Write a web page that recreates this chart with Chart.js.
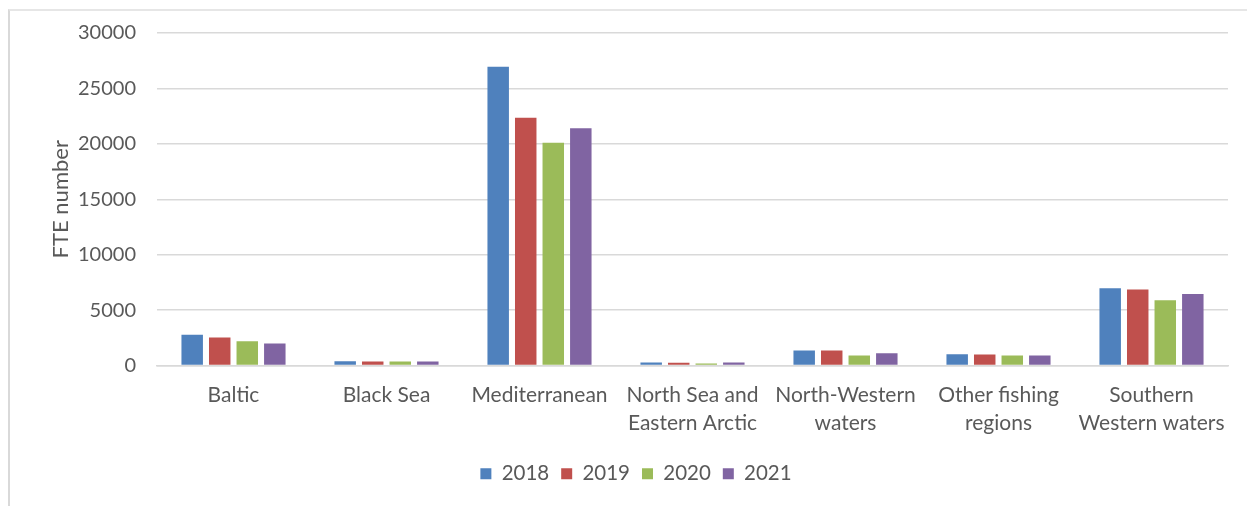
<!DOCTYPE html>
<html>
<head>
<meta charset="utf-8">
<script src="https://cdn.jsdelivr.net/npm/chart.js@4.4.1/dist/chart.umd.min.js"></script>
<style>
  html, body { margin: 0; padding: 0; background: #fff; }
  #wrap { position: relative; width: 1247px; height: 506px; }
  #frame { position: absolute; left: 8px; top: 9px; right: 0; bottom: 0;
           border-left: 2px solid #d9d9d9; border-top: 2px solid #e6e6e6; }
  canvas { position: absolute; left: 0; top: 0; }
</style>
</head>
<body>
<div id="wrap">
  <div id="frame"></div>
  <canvas id="fteChart" width="1247" height="506"></canvas>
</div>
<script>
// Regiões de pesca
const regions = [
    'Baltic',
    'Black Sea',
    'Mediterranean',
    ['North Sea and', 'Eastern Arctic'],
    ['North-Western', 'waters'],
    ['Other fishing', 'regions'],
    ['Southern', 'Western waters']
];

// FTE por ano
const fte2018 = [2770, 380, 26950, 280, 1350, 1020, 6960];
const fte2019 = [2520, 370, 22350, 250, 1350, 1000, 6850];
const fte2020 = [2190, 350, 20100, 170, 900, 900, 5880];
const fte2021 = [1980, 360, 21400, 260, 1110, 900, 6460];

const yTicks = [0, 5000, 10000, 15000, 20000, 25000, 30000];

const textColor = '#595959';
const fontFamily = 'Lato, "Open Sans", sans-serif';

// desloca a legenda para ficar centrada sob a área do gráfico
const legendShift = {
    id: 'legendShift',
    afterLayout: function (chart) {
        if (chart.legend) {
            chart.legend.left += 22;
            chart.legend.right += 22;
        }
    }
};

new Chart(document.getElementById('fteChart'), {
    type: 'bar',
    data: {
        labels: regions,
        datasets: [
            { label: '2018', data: fte2018, backgroundColor: '#4F81BD' },
            { label: '2019', data: fte2019, backgroundColor: '#C0504D' },
            { label: '2020', data: fte2020, backgroundColor: '#9BBB59' },
            { label: '2021', data: fte2021, backgroundColor: '#8064A2' }
        ]
    },
    plugins: [legendShift],
    options: {
        responsive: false,
        animation: false,
        categoryPercentage: 0.72,
        barPercentage: 0.78,
        layout: { padding: { top: 25, right: 19, bottom: 12, left: 0 } },
        scales: {
            x: {
                grid: { display: false, drawTicks: false },
                border: { display: true, color: '#d9d9d9', width: 1.5 },
                ticks: {
                    color: textColor,
                    font: { family: fontFamily, size: 21, lineHeight: 1.33 },
                    padding: 16,
                    maxRotation: 0,
                    autoSkip: false
                },
                afterFit: function (scale) { scale.height = 86; }
            },
            y: {
                min: 0,
                max: 30000,
                afterBuildTicks: function (scale) {
                    scale.ticks = yTicks.map(v => ({ value: v }));
                },
                grid: { color: '#d9d9d9', lineWidth: 1.5, drawTicks: false },
                border: { display: false },
                ticks: {
                    color: textColor,
                    font: { family: fontFamily, size: 20 },
                    padding: 21,
                    callback: function (value) { return String(value); }
                },
                title: {
                    display: true,
                    text: 'FTE number',
                    color: textColor,
                    font: { family: fontFamily, size: 22 },
                    padding: { top: 48, bottom: 0 }
                },
                afterFit: function (scale) { scale.width = 157; }
            }
        },
        plugins: {
            legend: {
                position: 'bottom',
                labels: {
                    color: textColor,
                    font: { family: fontFamily, size: 20.5 },
                    boxWidth: 11,
                    boxHeight: 11,
                    padding: 12
                }
            },
            tooltip: { enabled: false }
        }
    }
});
</script>
</body>
</html>
